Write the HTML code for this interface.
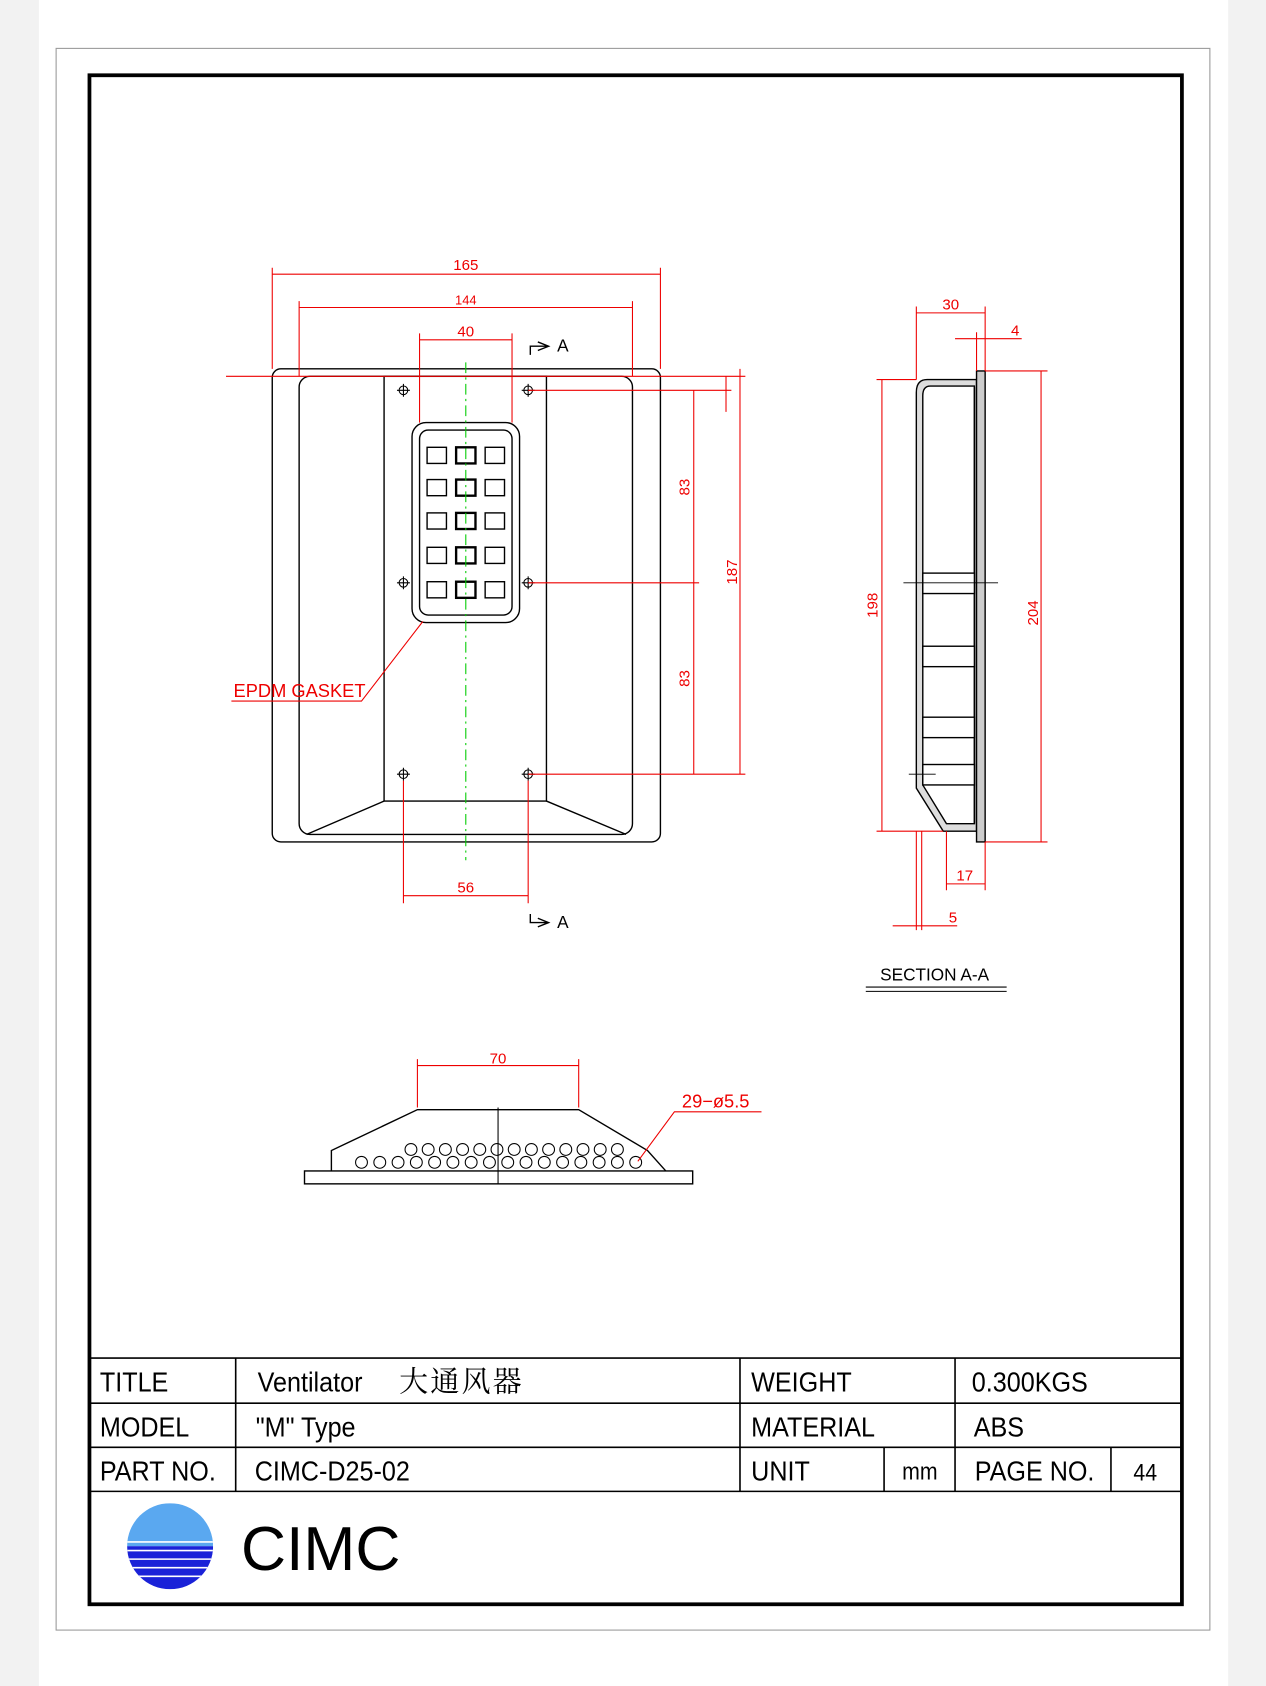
<!DOCTYPE html>
<html><head><meta charset="utf-8"><style>
html,body{margin:0;padding:0;background:#f2f2f2;}
svg{display:block;}
text{font-family:"Liberation Sans","Noto Sans CJK SC",sans-serif;}
</style></head><body>
<svg width="1266" height="1686" viewBox="0 0 1177 1568" xmlns="http://www.w3.org/2000/svg">
<rect x="0" y="0" width="1177" height="1568" fill="#f2f2f2"/>
<rect x="36" y="0" width="1106" height="1568" fill="#fff"/>
<rect x="52" y="45" width="1073" height="1471" fill="none" stroke="#999" stroke-width="1"/>
<rect x="83" y="70" width="1016" height="1422" fill="none" stroke="#000" stroke-width="3.5"/>

<g stroke="#000" stroke-width="1.5" fill="none">
<line x1="83" y1="1263" x2="1099" y2="1263"/>
<line x1="83" y1="1305" x2="1099" y2="1305"/>
<line x1="83" y1="1346" x2="1099" y2="1346"/>
<line x1="83" y1="1387" x2="1099" y2="1387"/>
<line x1="219" y1="1263" x2="219" y2="1387"/>
<line x1="688" y1="1263" x2="688" y2="1387"/>
<line x1="888" y1="1263" x2="888" y2="1387"/>
<line x1="822" y1="1346" x2="822" y2="1387"/>
<line x1="1033" y1="1346" x2="1033" y2="1387"/>
</g>
<g font-size="26" fill="#000" transform="scale(0.9,1)">
<text x="103" y="1294">TITLE</text>
<text x="103" y="1336">MODEL</text>
<text x="103" y="1377">PART NO.</text>
<text x="266" y="1294">Ventilator</text>
<text x="264" y="1336">"M"  Type</text>
<text x="263" y="1377">CIMC-D25-02</text>
<text x="776" y="1294">WEIGHT</text>
<text x="776" y="1336">MATERIAL</text>
<text x="776" y="1377">UNIT</text>
<text x="1004" y="1294">0.300KGS</text>
<text x="1006" y="1336">ABS</text>
<text x="1007" y="1377">PAGE NO.</text>
<text x="932" y="1376" font-size="22">mm</text>
<text x="1171" y="1377" font-size="22">44</text>
</g>
<text x="371" y="1294" font-size="27" fill="#000" style="font-family:'Noto Serif CJK SC','Noto Sans CJK SC',serif" letter-spacing="2">大通风器</text>
<defs><clipPath id="lc"><circle cx="158" cy="1438" r="40"/></clipPath></defs>
<g clip-path="url(#lc)">
<rect x="118" y="1398" width="80" height="40" fill="#5aa8f0"/>
<rect x="118" y="1438" width="80" height="40" fill="#1a22d8"/>
<g stroke="#fff" stroke-width="1.5"><line x1="118" y1="1434" x2="198" y2="1434"/><line x1="118" y1="1442" x2="198" y2="1442"/><line x1="118" y1="1450" x2="198" y2="1450"/><line x1="118" y1="1458" x2="198" y2="1458"/><line x1="118" y1="1466" x2="198" y2="1466"/></g>
</g>
<text x="224" y="1460" font-size="58" fill="#000">CIMC</text>

<g stroke="#000" stroke-width="1.3" fill="none">
<rect x="253" y="343" width="361" height="440" rx="8"/>
<rect x="278" y="350" width="310" height="426" rx="10"/>
<rect x="357" y="350" width="151" height="395"/>
<line x1="357" y1="745" x2="285" y2="776"/>
<line x1="508" y1="745" x2="582" y2="776"/>
<rect x="383" y="393" width="100" height="186" rx="13"/>
<rect x="390" y="400" width="86" height="172" rx="8"/>
<g>
<rect x="397" y="416" width="18" height="15"/><rect x="424" y="416" width="18" height="15" stroke-width="2.2"/><rect x="451" y="416" width="18" height="15"/>
<rect x="397" y="446" width="18" height="15"/><rect x="424" y="446" width="18" height="15" stroke-width="2.2"/><rect x="451" y="446" width="18" height="15"/>
<rect x="397" y="477" width="18" height="15"/><rect x="424" y="477" width="18" height="15" stroke-width="2.2"/><rect x="451" y="477" width="18" height="15"/>
<rect x="397" y="509" width="18" height="15"/><rect x="424" y="509" width="18" height="15" stroke-width="2.2"/><rect x="451" y="509" width="18" height="15"/>
<rect x="397" y="541" width="18" height="15"/><rect x="424" y="541" width="18" height="15" stroke-width="2.2"/><rect x="451" y="541" width="18" height="15"/>
</g>
<g stroke-width="1">
<circle cx="375" cy="363" r="4"/><path d="M369 363H381M375 357V369"/>
<circle cx="491" cy="363" r="4"/><path d="M485 363H497M491 357V369"/>
<circle cx="375" cy="542" r="4"/><path d="M369 542H381M375 536V548"/>
<circle cx="491" cy="542" r="4"/><path d="M485 542H497M491 536V548"/>
<circle cx="375" cy="720" r="4"/><path d="M369 720H381M375 714V726"/>
<circle cx="491" cy="720" r="4"/><path d="M485 720H497M491 714V726"/>
</g>
</g>
<line x1="433" y1="337" x2="433" y2="800" stroke="#0c0" stroke-width="1" stroke-dasharray="10,4,2,4"/>

<g stroke="#e00" stroke-width="1" fill="none">
<path d="M253 249V343M614 249V343M253 255H614"/>
<path d="M278 280V350M588 280V350M278 286H588"/>
<path d="M390 310V393M476 310V393M390 316H476"/>
<path d="M210 350H693"/>
<path d="M491 363H680M491 542H650M491 720H693"/>
<path d="M645 363V720M688 343V720M675 350V383"/>
<path d="M375 726V840M491 726V840M375 833H491"/>
<path d="M215 652H336L393 578"/>
</g>
<g fill="#e00" font-size="14" font-family="Liberation Mono,monospace">
<text x="433" y="251" text-anchor="middle">165</text>
<text x="433" y="283" text-anchor="middle" font-size="12">144</text>
<text x="433" y="313" text-anchor="middle">40</text>
<text x="433" y="830" text-anchor="middle">56</text>
<text x="217" y="648" font-size="17">EPDM GASKET</text>
<text transform="translate(641,453) rotate(-90)" text-anchor="middle">83</text>
<text transform="translate(641,631) rotate(-90)" text-anchor="middle">83</text>
<text transform="translate(685,532) rotate(-90)" text-anchor="middle">187</text>
<text transform="translate(816,563) rotate(-90)" text-anchor="middle">198</text>
<text transform="translate(965,570) rotate(-90)" text-anchor="middle">204</text>
<text x="884" y="288" text-anchor="middle">30</text>
<text x="944" y="312" text-anchor="middle">4</text>
<text x="897" y="819" text-anchor="middle">17</text>
<text x="886" y="858" text-anchor="middle">5</text>
<text x="634" y="1030" font-size="17">29−ø5.5</text>
<text x="463" y="989" text-anchor="middle">70</text>
</g>
<g font-size="16" fill="#000">
<text x="518" y="327">A</text>
<text x="518" y="863">A</text>
</g>
<g stroke="#000" stroke-width="1.3" fill="none">
<path d="M493 330V322L510 322M500 318L510 322L500 326"/>
<path d="M493 850V858L510 858M500 854L510 858L500 862"/>
</g>

<g stroke="#000" stroke-width="1.3" fill="#fff">
<path d="M852 365Q852 353 862 353H908V773H877L852 733Z" fill="#ddd"/>
<path d="M858 368Q858 359 865 359H906V766H880L858 730Z" fill="#fff"/>
<rect x="908" y="345" width="8" height="438" fill="#ccc"/>
<line x1="906" y1="360" x2="906" y2="766"/>
<rect x="858" y="533" width="48" height="19"/>
<rect x="858" y="601" width="48" height="19"/>
<rect x="858" y="667" width="48" height="19"/>
<rect x="858" y="711" width="48" height="19"/>
<line x1="840" y1="542" x2="928" y2="542" stroke-width="0.8"/>
<line x1="845" y1="720" x2="870" y2="720" stroke-width="0.8"/>
</g>
<g stroke="#e00" stroke-width="1" fill="none">
<path d="M852 285V353M916 285V345M852 291H916"/>
<path d="M908 309V345M888 315H950"/>
<path d="M815 353H852M820 353V773M815 773H877"/>
<path d="M916 345H974M968 345V783M916 783H974"/>
<path d="M880 773V828M916 783V828M880 822H916"/>
<path d="M852 773V865M857 773V865M830 861H890"/>
</g>
<text x="869" y="912" font-size="16" text-anchor="middle" fill="#000">SECTION A-A</text>
<g stroke="#000" stroke-width="1"><line x1="805" y1="918" x2="936" y2="918"/><line x1="805" y1="922" x2="936" y2="922"/></g>

<g stroke="#000" stroke-width="1.3" fill="none">
<rect x="283" y="1089" width="361" height="12"/>
<path d="M308 1089V1070L388 1032H538L602 1070L619 1089"/>
<line x1="463" y1="1030" x2="463" y2="1101" stroke-width="1"/>
<g stroke-width="1">
<circle cx="382" cy="1069" r="5.5"/><circle cx="398" cy="1069" r="5.5"/><circle cx="414" cy="1069" r="5.5"/><circle cx="430" cy="1069" r="5.5"/><circle cx="446" cy="1069" r="5.5"/><circle cx="462" cy="1069" r="5.5"/><circle cx="478" cy="1069" r="5.5"/><circle cx="494" cy="1069" r="5.5"/><circle cx="510" cy="1069" r="5.5"/><circle cx="526" cy="1069" r="5.5"/><circle cx="542" cy="1069" r="5.5"/><circle cx="558" cy="1069" r="5.5"/><circle cx="574" cy="1069" r="5.5"/>
<circle cx="336" cy="1081" r="5.5"/><circle cx="353" cy="1081" r="5.5"/><circle cx="370" cy="1081" r="5.5"/><circle cx="387" cy="1081" r="5.5"/><circle cx="404" cy="1081" r="5.5"/><circle cx="421" cy="1081" r="5.5"/><circle cx="438" cy="1081" r="5.5"/><circle cx="455" cy="1081" r="5.5"/><circle cx="472" cy="1081" r="5.5"/><circle cx="489" cy="1081" r="5.5"/><circle cx="506" cy="1081" r="5.5"/><circle cx="523" cy="1081" r="5.5"/><circle cx="540" cy="1081" r="5.5"/><circle cx="557" cy="1081" r="5.5"/><circle cx="574" cy="1081" r="5.5"/><circle cx="591" cy="1081" r="5.5"/>
</g>
</g>
<g stroke="#e00" stroke-width="1" fill="none">
<path d="M388 985V1030M538 985V1030M388 991H538"/>
<path d="M708 1034H627L593 1080"/>
</g>
</svg>
</body></html>
